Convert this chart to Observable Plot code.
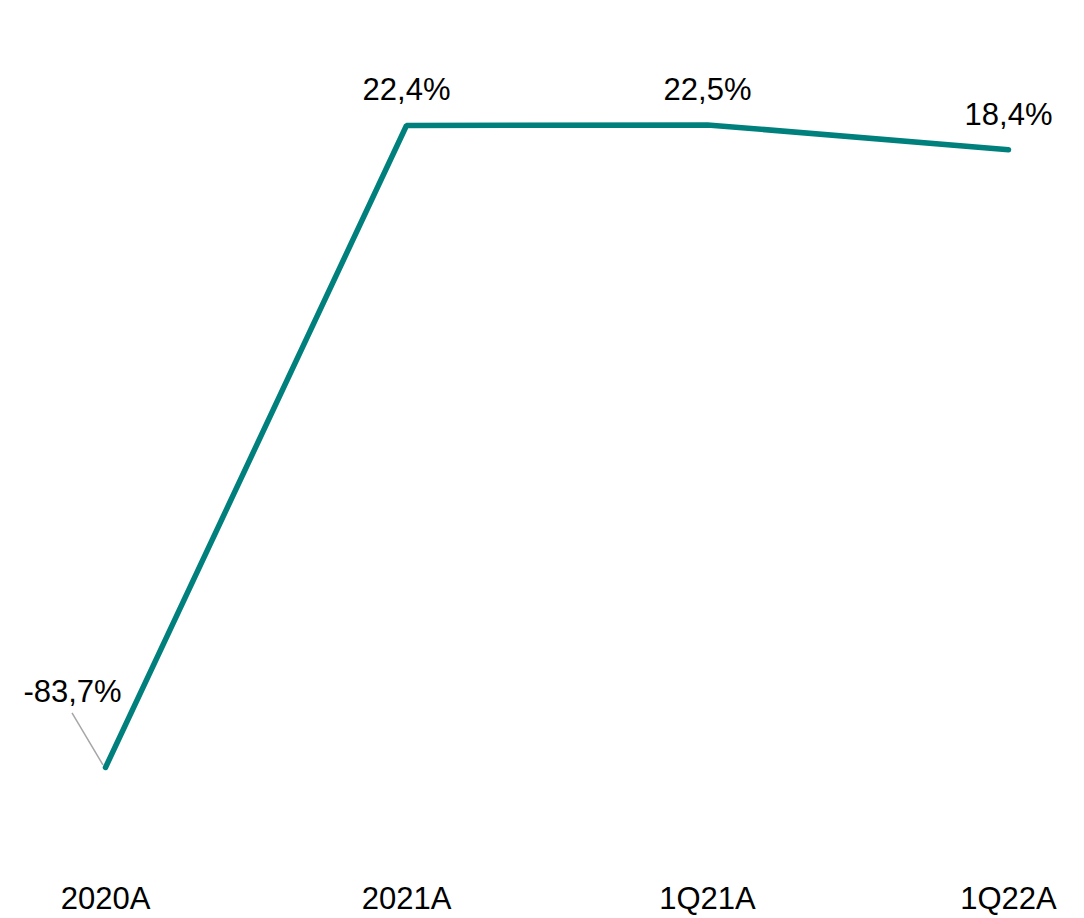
<!DOCTYPE html>
<html>
<head>
<meta charset="utf-8">
<script src="https://cdn.jsdelivr.net/npm/d3@7"></script>
<script src="https://cdn.jsdelivr.net/npm/@observablehq/plot@0.6"></script>
<style>
  html, body { margin: 0; padding: 0; background: #fff; }
  #chart svg { display: block; }
</style>
</head>
<body>
<div id="chart"></div>
<script>
const categories = ["2020A", "2021A", "1Q21A", "1Q22A"];
const values = [-83.7, 22.4, 22.5, 18.4];
const labels = ["-83,7%", "22,4%", "22,5%", "18,4%"];

const data = categories.map((c, i) => ({cat: c, v: values[i], label: labels[i], i}));

const teal = "#00807d";
const font = "'Liberation Sans', Arial, sans-serif";

const leader = (index, scales) => {
  const g = d3.create("svg:g");
  const d = data[0];
  const x = scales.x(d.cat), y = scales.y(d.v);
  g.append("line")
    .attr("x1", x - 33).attr("y1", y - 54)
    .attr("x2", x - 2).attr("y2", y - 2)
    .attr("stroke", "#a6a6a6").attr("stroke-width", 1.5);
  return g.node();
};

const chart = Plot.plot({
  width: 1084,
  height: 918,
  marginTop: 0,
  marginBottom: 38,
  marginLeft: 0,
  marginRight: 0,
  style: {fontFamily: font, background: "#fff"},
  x: {type: "point", domain: categories, range: [104, 1008], padding: 0},
  y: {domain: [-100, 40], range: [865.6, 18.5], axis: null},
  marks: [
    leader,
    Plot.line(data, {x: "cat", y: "v", stroke: teal, strokeWidth: 5.5, strokeLinecap: "round", strokeLinejoin: "miter"}),
    Plot.text(data.filter(d => d.i > 0), {x: "cat", y: "v", text: "label", dy: -25, fontSize: 31, fill: "#000", lineAnchor: "bottom"}),
    Plot.text(data.filter(d => d.i === 0), {x: "cat", y: "v", text: "label", dx: -33, dy: -65, fontSize: 31, fill: "#000", lineAnchor: "bottom"}),
    Plot.axisX({anchor: "bottom", tickSize: 0, tickPadding: 6, fontSize: 31, label: null, color: "#000"})
  ]
});
document.getElementById("chart").appendChild(chart);
</script>
</body>
</html>
